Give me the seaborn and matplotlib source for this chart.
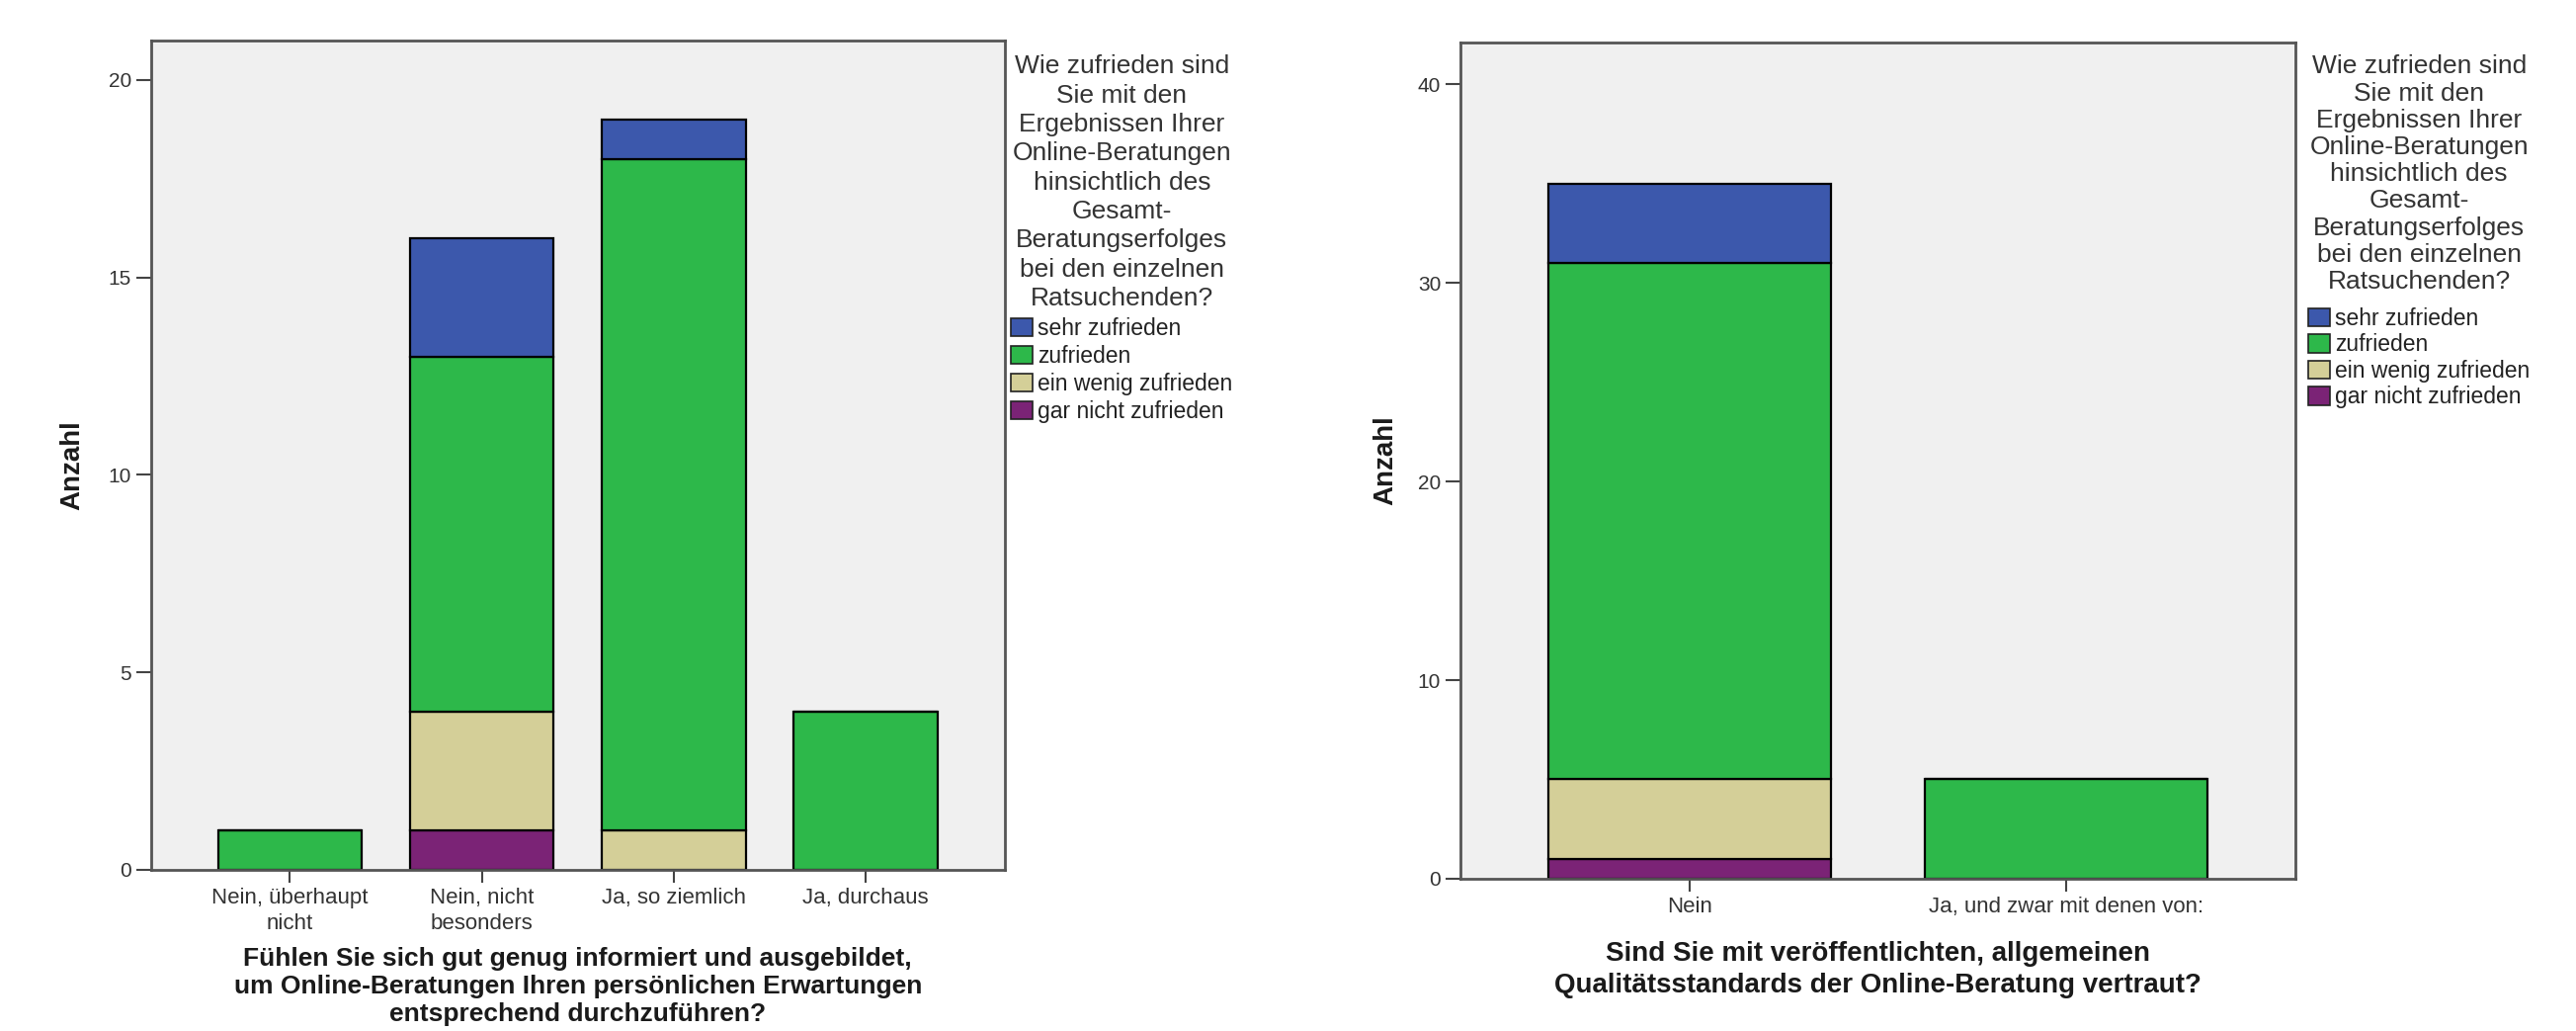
import matplotlib
matplotlib.use("Agg")
import matplotlib.pyplot as plt
from matplotlib.patches import Patch
import seaborn as sns
import pandas as pd

# ---------------- data ----------------
levels = ["sehr zufrieden", "zufrieden", "ein wenig zufrieden", "gar nicht zufrieden"]
level_colors = ["#3C58AC", "#2DB84A", "#D4CF98", "#7B2376"]

left_cats = ["Nein, überhaupt\nnicht", "Nein, nicht\nbesonders", "Ja, so ziemlich", "Ja, durchaus"]
left_sehr = [0, 3, 1, 0]
left_zufrieden = [1, 9, 17, 4]
left_wenig = [0, 3, 1, 0]
left_gar_nicht = [0, 1, 0, 0]

right_cats = ["Nein", "Ja, und zwar mit denen von:"]
right_sehr = [4, 0]
right_zufrieden = [26, 5]
right_wenig = [4, 0]
right_gar_nicht = [1, 0]

legend_title = ("Wie zufrieden sind\nSie mit den\nErgebnissen Ihrer\nOnline-Beratungen\n"
                "hinsichtlich des\nGesamt-\nBeratungserfolges\nbei den einzelnen\nRatsuchenden?")
left_xlabel = ("Fühlen Sie sich gut genug informiert und ausgebildet,\n"
               "um Online-Beratungen Ihren persönlichen Erwartungen\n"
               "entsprechend durchzuführen?")
right_xlabel = ("Sind Sie mit veröffentlichten, allgemeinen\n"
                "Qualitätsstandards der Online-Beratung vertraut?")
ylabel = "Anzahl"
left_yticks = [0, 5, 10, 15, 20]
right_yticks = [0, 10, 20, 30, 40]


def make_df(cats, series):
    rows = []
    for lvl, vals in zip(levels, series):
        for c, v in zip(cats, vals):
            rows.append({"cat": c, "level": lvl, "count": v})
    df = pd.DataFrame(rows)
    df["cat"] = pd.Categorical(df["cat"], categories=cats, ordered=True)
    return df


df_left = make_df(left_cats, [left_sehr, left_zufrieden, left_wenig, left_gar_nicht])
df_right = make_df(right_cats, [right_sehr, right_zufrieden, right_wenig, right_gar_nicht])

# ---------------- style ----------------
sns.set_theme(style="white")
plt.rcParams["font.family"] = ["Liberation Sans", "DejaVu Sans"]
plt.rcParams["text.color"] = "#222222"

palette = dict(zip(levels, level_colors))
spine_col = "#555555"

fig = plt.figure(figsize=(26.07, 10.43), dpi=100)
fig.patch.set_facecolor("white")
ax1 = fig.add_axes([0.0585, 0.1563, 0.3316, 0.8044])
ax2 = fig.add_axes([0.5668, 0.1477, 0.3243, 0.8110])


def draw(ax, df, cats, ylim, yticks, xlabel, xlab_fs, xlab_ls, xlim, ylab_xy, xlab_xy,
         leg_xy, leg_spacing, title_ls, title_gap):
    sns.histplot(data=df, x="cat", hue="level", weights="count", multiple="stack",
                 discrete=True, shrink=0.75, hue_order=levels, palette=palette,
                 edgecolor="black", linewidth=1.6, alpha=1, ax=ax, legend=False)
    ax.set_facecolor("#F0F0F0")
    ax.set_xlim(*xlim)
    ax.set_ylim(*ylim)
    ax.set_yticks(yticks)
    ax.set_yticklabels([str(t) for t in yticks], fontsize=15, color="#333333")
    ax.set_xticks(range(len(cats)))
    ax.set_xticklabels(cats, fontsize=16, color="#333333", linespacing=1.3)
    ax.tick_params(axis="x", bottom=True, length=9, width=1.5, color="#444444", pad=4)
    ax.tick_params(axis="y", left=True, length=11, width=1.5, color="#444444", pad=3)
    for s in ax.spines.values():
        s.set_visible(True)
        s.set_color(spine_col)
        s.set_linewidth(2)
    ax.set_ylabel(ylabel, fontsize=20, fontweight="bold", color="#1a1a1a")
    ax.yaxis.set_label_coords(*ylab_xy)
    ax.set_xlabel(xlabel, fontsize=xlab_fs, fontweight="bold", color="#1a1a1a",
                  linespacing=xlab_ls)
    ax.xaxis.set_label_coords(*xlab_xy)
    handles = [Patch(facecolor=c, edgecolor="#222222", linewidth=1.2) for c in level_colors]
    leg = ax.legend(handles, levels, title=legend_title, loc="upper left",
                    bbox_to_anchor=leg_xy, bbox_transform=fig.transFigure,
                    frameon=False, fontsize=16.5, title_fontsize=19,
                    handlelength=0.95, handleheight=0.85, handletextpad=0.25,
                    labelspacing=leg_spacing, borderpad=0, borderaxespad=0)
    t = leg.get_title()
    t.set_multialignment("center")
    t.set_linespacing(title_ls)
    t.set_color("#333333")
    for txt in leg.get_texts():
        txt.set_color("#222222")
    # gap between title block and the entries (points)
    leg._legend_box.sep = title_gap


draw(ax1, df_left, left_cats, (0, 21), left_yticks, left_xlabel, 19, 1.2, (-0.725, 3.725),
     (-0.077, 0.4875), (0.5, -0.093), (0.3924, 0.947), 0.22, 1.28, 5)
draw(ax2, df_right, right_cats, (0, 42.1), right_yticks, right_xlabel, 20, 1.3, (-0.61, 1.61),
     (-0.074, 0.5), (0.5, -0.074), (0.896, 0.947), 0.15, 1.17, 10)

fig.savefig("out.png", dpi=100)
